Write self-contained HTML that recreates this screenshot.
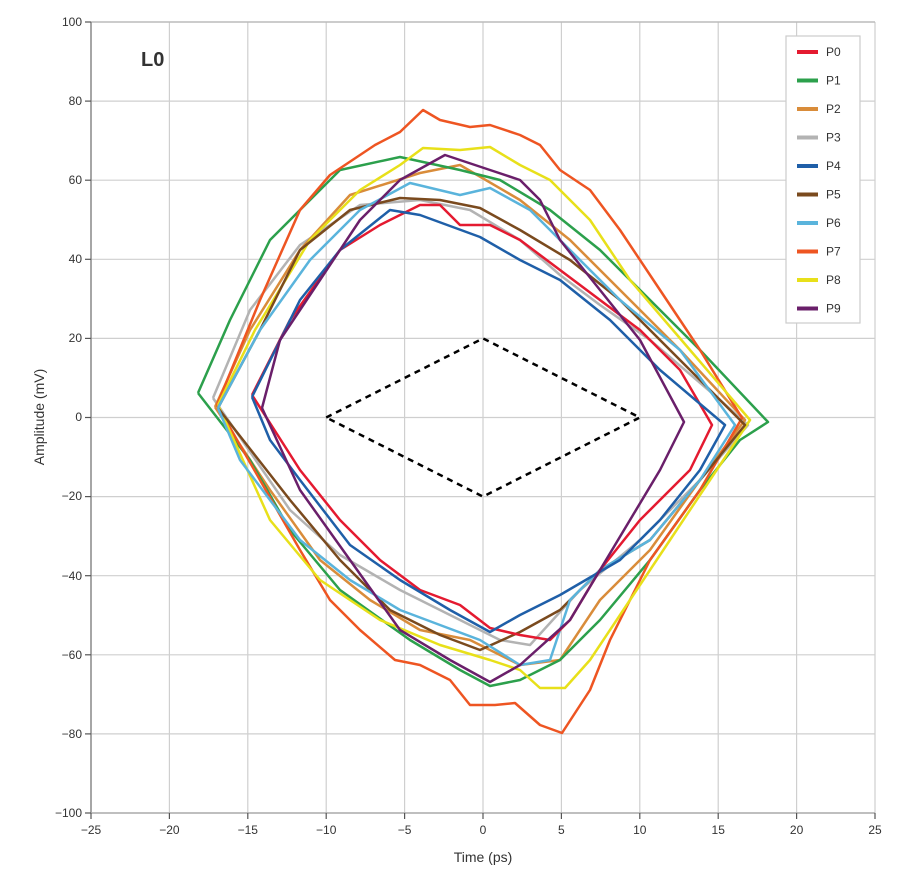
<!DOCTYPE html>
<html><head><meta charset="utf-8"><style>
body{margin:0;background:#fff}
svg text{font-family:"Liberation Sans",sans-serif;fill:#333}
</style></head><body>
<svg width="903" height="878" xmlns="http://www.w3.org/2000/svg">
<g stroke="#cfcfcf" stroke-width="1.2">
<line x1="169.4" y1="22" x2="169.4" y2="813"/><line x1="247.8" y1="22" x2="247.8" y2="813"/><line x1="326.2" y1="22" x2="326.2" y2="813"/><line x1="404.6" y1="22" x2="404.6" y2="813"/><line x1="483" y1="22" x2="483" y2="813"/><line x1="561.4" y1="22" x2="561.4" y2="813"/><line x1="639.8" y1="22" x2="639.8" y2="813"/><line x1="718.2" y1="22" x2="718.2" y2="813"/><line x1="796.6" y1="22" x2="796.6" y2="813"/><line x1="875" y1="22" x2="875" y2="813"/>
<line x1="91" y1="101.1" x2="875" y2="101.1"/><line x1="91" y1="180.2" x2="875" y2="180.2"/><line x1="91" y1="259.3" x2="875" y2="259.3"/><line x1="91" y1="338.4" x2="875" y2="338.4"/><line x1="91" y1="417.5" x2="875" y2="417.5"/><line x1="91" y1="496.6" x2="875" y2="496.6"/><line x1="91" y1="575.7" x2="875" y2="575.7"/><line x1="91" y1="654.8" x2="875" y2="654.8"/><line x1="91" y1="733.9" x2="875" y2="733.9"/>
</g>
<line x1="91" y1="22" x2="875" y2="22" stroke="#bbb" stroke-width="1.5"/>
<line x1="91" y1="22" x2="91" y2="813" stroke="#888" stroke-width="1.5"/>
<line x1="91" y1="813" x2="875" y2="813" stroke="#aaa" stroke-width="1.5"/>
<g stroke="#555" stroke-width="1.2">
<line x1="85" y1="22" x2="91" y2="22"/><line x1="85" y1="101.1" x2="91" y2="101.1"/><line x1="85" y1="180.2" x2="91" y2="180.2"/><line x1="85" y1="259.3" x2="91" y2="259.3"/><line x1="85" y1="338.4" x2="91" y2="338.4"/><line x1="85" y1="417.5" x2="91" y2="417.5"/><line x1="85" y1="496.6" x2="91" y2="496.6"/><line x1="85" y1="575.7" x2="91" y2="575.7"/><line x1="85" y1="654.8" x2="91" y2="654.8"/><line x1="85" y1="733.9" x2="91" y2="733.9"/><line x1="85" y1="813" x2="91" y2="813"/>
<line x1="91" y1="813" x2="91" y2="819"/><line x1="169.4" y1="813" x2="169.4" y2="819"/><line x1="247.8" y1="813" x2="247.8" y2="819"/><line x1="326.2" y1="813" x2="326.2" y2="819"/><line x1="404.6" y1="813" x2="404.6" y2="819"/><line x1="483" y1="813" x2="483" y2="819"/><line x1="561.4" y1="813" x2="561.4" y2="819"/><line x1="639.8" y1="813" x2="639.8" y2="819"/><line x1="718.2" y1="813" x2="718.2" y2="819"/><line x1="796.6" y1="813" x2="796.6" y2="819"/><line x1="875" y1="813" x2="875" y2="819"/>
</g>
<g font-size="12" text-anchor="end">
<text x="82" y="26">100</text><text x="82" y="105">80</text><text x="82" y="184">60</text><text x="82" y="263">40</text><text x="82" y="342">20</text><text x="82" y="421">0</text><text x="82" y="500">−20</text><text x="82" y="580">−40</text><text x="82" y="659">−60</text><text x="82" y="738">−80</text><text x="82" y="817">−100</text>
</g>
<g font-size="12" text-anchor="middle">
<text x="91" y="834">−25</text><text x="169.4" y="834">−20</text><text x="247.8" y="834">−15</text><text x="326.2" y="834">−10</text><text x="404.6" y="834">−5</text><text x="483" y="834">0</text><text x="561.4" y="834">5</text><text x="639.8" y="834">10</text><text x="718.2" y="834">15</text><text x="796.6" y="834">20</text><text x="875" y="834">25</text>
</g>
<text x="483" y="862" font-size="14" text-anchor="middle">Time (ps)</text>
<text transform="translate(44,417) rotate(-90)" font-size="14" text-anchor="middle">Amplitude (mV)</text>
<text x="141" y="66" font-size="20" font-weight="bold" fill="#111">L0</text>
<polygon points="326.2,417.5 483,338.4 639.8,417.5 483,496.6" fill="none" stroke="#000" stroke-width="2.5" stroke-dasharray="6,5"/>
<g fill="none" stroke-width="2.5" stroke-linejoin="round">
<polyline stroke="#b3b3b3" points="213,398 250,310 300,245 360,205 420,200 470,210 520,240 560,275 600,305 650,340 720,400 748,425 700,480 640,540 580,590 530,645 500,640 460,620 400,590 340,555 290,510 213,398"/>
<polyline stroke="#d98c3a" points="215,407 250,330 300,250 350,195 420,173 460,165 520,200 570,240 620,290 680,350 745,420 700,480 650,550 600,600 560,660 520,665 470,640 420,630 370,600 320,560 270,490 215,407"/>
<polyline stroke="#2ca04c" points="198,393 230,320 270,240 300,210 340,170 400,157 460,170 500,180 550,210 600,250 650,300 700,350 768,422 740,440 700,490 650,560 600,620 560,660 520,680 490,686 460,670 410,640 340,590 290,530 250,460 198,393"/>
<polyline stroke="#ee5522" points="217,405 260,300 300,210 330,175 375,145 400,132 423,110 440,120 470,127 490,125 520,135 540,145 560,170 590,190 620,230 660,290 700,350 742,418 700,490 650,560 610,640 590,690 562,733 540,725 515,703 495,705 470,705 450,680 420,665 395,660 360,630 330,600 300,550 260,480 217,405"/>
<polyline stroke="#e8e01a" points="218,405 255,330 310,240 360,190 400,165 423,148 460,150 490,147 520,165 550,180 590,220 630,280 690,350 750,420 710,480 670,540 630,600 590,660 565,688 540,688 520,670 490,660 440,645 380,620 320,580 270,520 218,405"/>
<polyline stroke="#7a4a1e" points="218,408 260,330 300,250 350,210 400,198 440,200 480,208 520,230 570,260 620,300 680,360 745,425 700,480 650,540 600,570 560,610 520,632 480,650 440,635 390,610 340,560 290,500 218,408"/>
<polyline stroke="#5ab4dc" points="218,408 260,330 310,260 360,210 410,183 460,195 490,188 530,210 570,250 620,300 680,350 735,425 700,480 650,540 600,570 570,600 550,660 520,665 480,640 440,625 400,610 350,580 300,540 240,460 218,408"/>
<polyline stroke="#e41a30" points="252,395 290,320 340,250 380,225 420,205 440,205 460,225 490,225 520,240 560,270 600,300 640,330 680,370 712,425 690,470 640,520 600,570 570,620 550,640 520,635 490,628 460,605 420,590 380,560 340,520 300,470 252,395"/>
<polyline stroke="#1f5fa8" points="252,397 300,300 340,250 390,210 420,215 480,237 520,260 560,280 610,320 660,370 725,425 700,470 660,520 620,560 560,595 520,615 490,632 450,610 400,580 350,545 300,480 270,440 252,397"/>
<polyline stroke="#6a1f6a" points="262,408 280,340 320,280 360,220 400,180 445,155 490,170 520,180 540,200 560,240 600,290 640,340 684,422 660,470 630,520 600,570 570,620 520,665 490,682 450,660 400,630 350,560 300,490 262,408"/>
</g>
<rect x="786" y="36" width="74" height="287" fill="#fff" stroke="#ccc" stroke-width="1.2"/>
<g stroke-width="4">
<line x1="797" y1="52" x2="818" y2="52" stroke="#e41a30"/>
<line x1="797" y1="80.5" x2="818" y2="80.5" stroke="#2ca04c"/>
<line x1="797" y1="109" x2="818" y2="109" stroke="#d98c3a"/>
<line x1="797" y1="137.5" x2="818" y2="137.5" stroke="#b3b3b3"/>
<line x1="797" y1="166" x2="818" y2="166" stroke="#1f5fa8"/>
<line x1="797" y1="194.5" x2="818" y2="194.5" stroke="#7a4a1e"/>
<line x1="797" y1="223" x2="818" y2="223" stroke="#5ab4dc"/>
<line x1="797" y1="251.5" x2="818" y2="251.5" stroke="#ee5522"/>
<line x1="797" y1="280" x2="818" y2="280" stroke="#e8e01a"/>
<line x1="797" y1="308.5" x2="818" y2="308.5" stroke="#6a1f6a"/>
</g>
<g font-size="12">
<text x="826" y="56">P0</text><text x="826" y="84.5">P1</text><text x="826" y="113">P2</text><text x="826" y="141.5">P3</text><text x="826" y="170">P4</text><text x="826" y="198.5">P5</text><text x="826" y="227">P6</text><text x="826" y="255.5">P7</text><text x="826" y="284">P8</text><text x="826" y="312.5">P9</text>
</g>
</svg>
</body></html>
